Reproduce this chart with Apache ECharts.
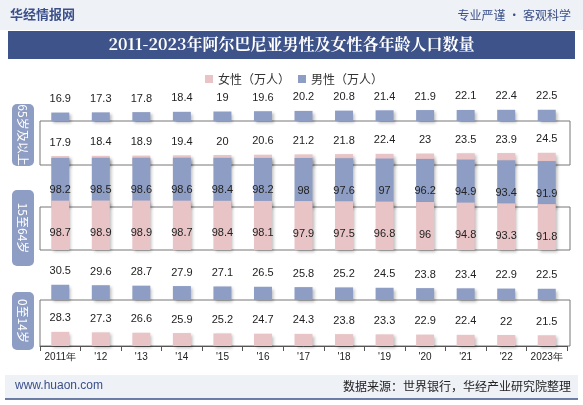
<!DOCTYPE html><html><head><meta charset="utf-8"><script src="https://cdn.jsdelivr.net/npm/echarts@6/dist/echarts.min.js"></script>
<style>body{margin:0}#c{width:583px;height:405px}</style></head><body><div id="c"></div><script>
const years=["2011年","'12","'13","'14","'15","'16","'17","'18","'19","'20","'21","'22","2023年"];
const male65=[16.9,17.3,17.8,18.4,19,19.6,20.2,20.8,21.4,21.9,22.1,22.4,22.5];
const female65=[17.9,18.4,18.9,19.4,20,20.6,21.2,21.8,22.4,23,23.5,23.9,24.5];
const male1564=[98.2,98.5,98.6,98.6,98.4,98.2,98,97.6,97,96.2,94.9,93.4,91.9];
const female1564=[98.7,98.9,98.9,98.7,98.4,98.1,97.9,97.5,96.8,96,94.8,93.3,91.8];
const male014=[30.5,29.6,28.7,27.9,27.1,26.5,25.8,25.2,24.5,23.8,23.4,22.9,22.5];
const female014=[28.3,27.3,26.6,25.9,25.2,24.7,24.3,23.8,23.3,22.9,22.4,22,21.5];
const blue='#8e9dc4',pink='#e8c4c6';
const rows=[
 {d:male65,c:blue,b:121,n:'男性（万人）',inside:false},
 {d:female65,c:pink,b:165,n:'女性（万人）',inside:false},
 {d:male1564,c:blue,b:207,n:'男性（万人）',inside:true},
 {d:female1564,c:pink,b:250,n:'女性（万人）',inside:true},
 {d:male014,c:blue,b:300,n:'男性（万人）',inside:false},
 {d:female014,c:pink,b:346,n:'女性（万人）',inside:false}];
const grid=[],xAxis=[],yAxis=[],series=[];
rows.forEach((r,i)=>{
 grid.push({left:40,right:16,top:r.b-50,height:50});
 const last=i===5;
 xAxis.push({type:'category',data:years,gridIndex:i,axisLine:{show:last,lineStyle:{color:'#555'}},axisTick:{show:last,lineStyle:{color:'#555'}},axisLabel:{show:last,interval:0,color:'#222',fontSize:10,margin:6}});
 yAxis.push({type:'value',gridIndex:i,min:0,max:100,show:false});
 series.push({type:'bar',name:r.n,xAxisIndex:i,yAxisIndex:i,data:r.d,barWidth:18,itemStyle:{color:r.c,shadowColor:'rgba(0,0,0,0.25)',shadowBlur:3,shadowOffsetX:2,shadowOffsetY:2},
  label:{show:true,position:r.inside?'insideTop':'top',offset:r.inside?[0,22]:[0,-3],color:'#222',fontSize:11,fontFamily:'Liberation Sans'},z:i});
});
const vbox=(y,h,t)=>({type:'group',children:[{type:'rect',shape:{x:12,y:y,width:22,height:h,r:5},style:{fill:'#8e9dc4'}},
 {type:'text',x:23,y:y+h/2,rotation:-Math.PI/2,style:{text:t,fill:'#fff',font:'12px "Noto Sans CJK SC"',align:'center',verticalAlign:'middle'}}]});
const frame=(y1,y2)=>({type:'rect',shape:{x:40,y:y1,width:530,height:y2-y1},style:{fill:'none',stroke:'#777',lineWidth:1},z:-1});
const chart=echarts.init(document.getElementById('c'));
chart.setOption({backgroundColor:'#fff',animation:false,grid,xAxis,yAxis,series,
 legend:{data:['女性（万人）','男性（万人）'],top:68,left:200,itemWidth:8,itemHeight:8,icon:'rect',textStyle:{fontSize:12,color:'#333',fontFamily:'Noto Sans CJK SC'}},
 graphic:[
  {type:'rect',shape:{x:0,y:0,width:583,height:30},style:{fill:'#eef1f6'},z:-5},
  {type:'text',left:10,top:8,style:{text:'华经情报网',fill:'#3b4f8a',font:'bold 13px "Noto Sans CJK SC"'}},
  {type:'text',right:12,top:9,style:{text:'专业严谨 • 客观科学',fill:'#3b4f8a',font:'12px "Noto Sans CJK SC"'}},
  {type:'rect',shape:{x:8,y:31,width:567,height:28},style:{fill:'#3e5389'},z:-5},
  {type:'text',left:'center',top:36,style:{text:'2011-2023年阿尔巴尼亚男性及女性各年龄人口数量',fill:'#fff',font:'bold 16px "Noto Serif CJK SC","Noto Sans CJK SC"'}},
  frame(121,165),frame(207,250),frame(300,346),
  vbox(104,62,'65岁及以上'),vbox(190,76,'15至64岁'),vbox(292,58,'0至14岁'),
  {type:'rect',shape:{x:5,y:375,width:573,height:24},style:{fill:'#eef1f6'},z:-5},
  {type:'line',shape:{x1:5,y1:399,x2:578,y2:399},style:{stroke:'#3e5389',lineWidth:1.5}},
  {type:'text',left:15,top:380,style:{text:'www.huaon.com',fill:'#3b4f8a',font:'12px "Liberation Sans"'}},
  {type:'text',right:12,top:380,style:{text:'数据来源：世界银行，华经产业研究院整理',fill:'#222',font:'12px "Noto Sans CJK SC"'}}
 ]});
</script></body></html>
